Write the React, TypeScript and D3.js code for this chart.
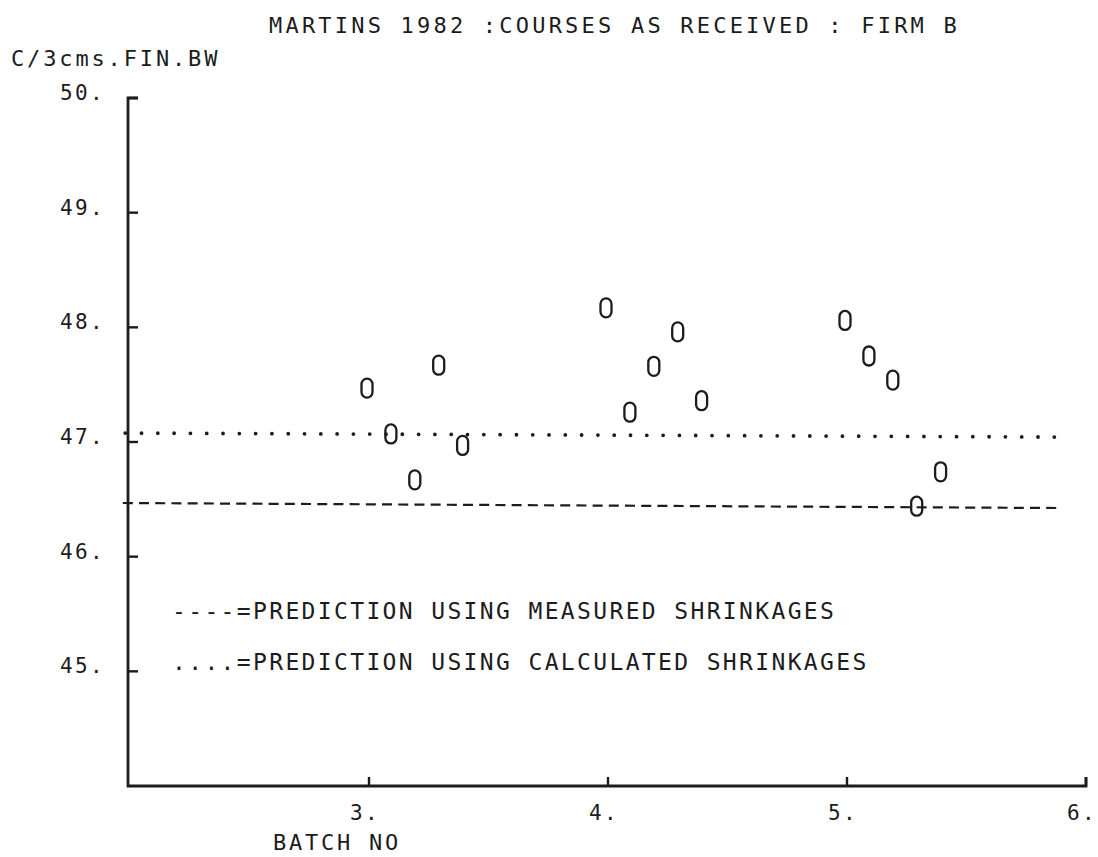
import React from "react";
import * as d3 from "d3";

const W = 1098;
const H = 857;

const title = "MARTINS 1982 :COURSES AS RECEIVED : FIRM B";
const yAxisTitle = "C/3cms.FIN.BW";
const xAxisTitle = "BATCH NO";
const yTicks = [45, 46, 47, 48, 49, 50];
const xTicks = [3, 4, 5, 6];
const yTickLabels = ["45.", "46.", "47.", "48.", "49.", "50."];
const xTickLabels = ["3.", "4.", "5.", "6."];

const batchX = [3.0, 3.1, 3.2, 3.3, 3.4, 4.0, 4.1, 4.2, 4.3, 4.4, 5.0, 5.1, 5.2, 5.3, 5.4];
const countY = [47.47, 47.07, 46.67, 47.67, 46.97, 48.17, 47.26, 47.66, 47.96, 47.36, 48.06, 47.75, 47.54, 46.44, 46.74];

const calcLineX = [1.98, 5.885];
const calcLineY = [47.078, 47.043];
const measLineX = [1.97, 5.9];
const measLineY = [46.468, 46.424];

const legendLabels = [
  "----=PREDICTION USING MEASURED SHRINKAGES",
  "....=PREDICTION USING CALCULATED SHRINKAGES",
];

const INK = "#1c1c1c";
const FONT = "'DejaVu Sans Mono', 'Liberation Mono', monospace";
const CELL = 16.2;

function PlotText(props: {
  x: number;
  y: number;
  text: string;
  size?: number;
  cell?: number;
}) {
  const size = props.size ?? 23;
  const cell = props.cell ?? CELL;
  const ls = cell - 0.602 * size;
  return (
    <text
      x={props.x}
      y={props.y}
      fontSize={size}
      fill={INK}
      letterSpacing={ls}
      style={{ whiteSpace: "pre" }}
    >
      {props.text}
    </text>
  );
}

export default function App() {
  const x = d3.scaleLinear().domain([2, 6]).range([130, 1086]);
  const y = d3.scaleLinear().domain([44, 50]).range([786, 98]);
  const line = d3
    .line<[number, number]>()
    .x((d) => x(d[0]))
    .y((d) => y(d[1]));
  const calc: [number, number][] = calcLineX.map((v, i) => [v, calcLineY[i]]);
  const meas: [number, number][] = measLineX.map((v, i) => [v, measLineY[i]]);

  const x0 = x(2) - 2;
  const yB = y(44);

  return (
    <svg
      width={W}
      height={H}
      style={{ position: "absolute", left: 0, top: 0, background: "#fff" }}
      fontFamily={FONT}
    >
      <PlotText x={269} y={33} text={title} size={22} cell={16.45} />
      <PlotText x={11} y={66} text={yAxisTitle} size={22} cell={16.1} />

      {/* axes */}
      <path
        d={`M${x0 + 10},${y(50)} H${x0} V${yB} H${x(6)} V${yB - 9}`}
        fill="none"
        stroke={INK}
        strokeWidth={2.8}
      />
      {yTicks.map((t, i) => (
        <g key={t}>
          <line x1={x0} x2={x0 + 10} y1={y(t)} y2={y(t)} stroke={INK} strokeWidth={2.4} />
          <PlotText x={60} y={y(t) + 2} text={yTickLabels[i]} size={21} cell={15} />
        </g>
      ))}
      {xTicks.map((t, i) => (
        <g key={t}>
          <line x1={x(t)} x2={x(t)} y1={yB} y2={yB - 9} stroke={INK} strokeWidth={2.4} />
          <PlotText x={x(t) - 19} y={yB + 34} text={xTickLabels[i]} size={21} cell={15} />
        </g>
      ))}
      <PlotText x={273} y={yB + 64} text={xAxisTitle} size={22} cell={16} />

      {/* prediction lines */}
      <path
        d={line(calc) || ""}
        fill="none"
        stroke={INK}
        strokeWidth={3.8}
        strokeLinecap="round"
        strokeDasharray="0 16.3"
      />
      <path
        d={line(meas) || ""}
        fill="none"
        stroke={INK}
        strokeWidth={2.2}
        strokeDasharray="10 6.2"
      />

      {/* points: plotter "0" symbols */}
      {batchX.map((bx, i) => (
        <rect
          key={i}
          x={x(bx) - 2 - 5.5}
          y={y(countY[i]) - 9.5}
          width={11}
          height={19}
          rx={5.5}
          ry={5.5}
          fill="none"
          stroke={INK}
          strokeWidth={2.3}
        />
      ))}

      {/* legend */}
      {legendLabels.map((l, i) => (
        <PlotText key={i} x={172} y={[619, 670][i]} text={l} size={23} cell={16.2} />
      ))}
    </svg>
  );
}
